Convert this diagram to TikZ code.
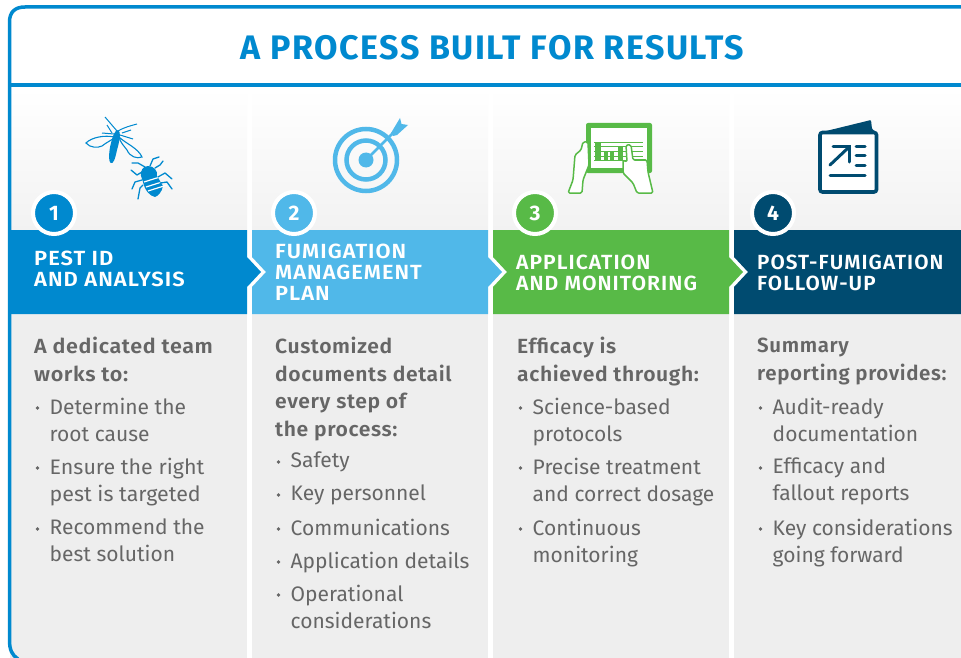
\documentclass[tikz,border=0pt]{standalone}
\usepackage{fontspec}
\setmainfont{Fira Sans}
\usetikzlibrary{calc}
\definecolor{cblue}{HTML}{0089CF}
\definecolor{clight}{HTML}{50B8E9}
\definecolor{cgreen}{HTML}{58BA47}
\definecolor{cnavy}{HTML}{004B70}
\definecolor{ctxt}{HTML}{666666}
\definecolor{cpanel}{HTML}{EEEEEE}
\definecolor{ctop}{HTML}{F2F2F2}
\newfontfamily\hdfont[LetterSpace=5]{Fira Sans SemiBold}
\newfontfamily\leadfont[LetterSpace=3]{Fira Sans SemiBold}
\newfontfamily\ttlbold[LetterSpace=4.5]{Fira Sans Bold}
\newfontfamily\numfont{Fira Sans Bold}
\newcommand{\xs}[1]{\addfontfeature{FakeStretch=#1}}
\tikzset{
 x=1pt,y=-1pt,
 head/.style={anchor=west,align=left,text=white,font=\hdfont\fontsize{20.5}{21}\selectfont,inner sep=0pt},
 lead/.style={anchor=north west,align=left,text=ctxt,font=\leadfont\fontsize{20.5}{27.5}\selectfont,inner sep=0pt},
 item/.style={anchor=north west,align=left,text=ctxt,font=\fontsize{21}{27}\selectfont,inner sep=0pt},
 dot/.style={circle,fill=ctxt,minimum size=3.6pt,inner sep=0pt},
 badge/.style={circle,draw=white,line width=4pt,minimum size=42pt,inner sep=0pt,text=white,font=\numfont\fontsize{21}{21}\selectfont},
}
\newcommand{\itm}[4]{% name, x, y, text
 \node[dot] (#1d) at (#2+3.5,#3+14) {};
 \node[item] (#1) at (#2+15.5,#3+4) {\vphantom{d}#4};}
\begin{document}
\begin{tikzpicture}
\useasboundingbox (0,0) rectangle (961,658);
\fill[white] (0,0) rectangle (961,658);
% panels
\foreach \a/\b in {10/247,252/488,493/729,734/961}{
 \shade[top color=white,bottom color=ctop] (\a,88) rectangle (\b,231);
 \fill[cpanel] (\a,313) rectangle (\b,658);
}
% headers
\fill[cnavy] (734,230) -- (961,230) -- (961,314) -- (734,314) -- (734,287) -- (748,272) -- (734,257) -- cycle;
\fill[cgreen] (493,230) -- (729,230) -- (729,257) -- (743,272) -- (729,287) -- (729,314) -- (493,314) -- (493,287) -- (507,272) -- (493,257) -- cycle;
\fill[clight] (252,230) -- (488,230) -- (488,257) -- (502,272) -- (488,287) -- (488,314) -- (252,314) -- (252,287) -- (266,272) -- (252,257) -- cycle;
\fill[cblue] (8,230) -- (247,230) -- (247,257) -- (261,272) -- (247,287) -- (247,314) -- (8,314) -- cycle;
% frame
\draw[cblue,line width=3.5pt] (18,659) .. controls (12,655) and (9.5,650) .. (9.5,640) -- (9.5,22) .. controls (9.5,12) and (15,7) .. (25,7) -- (961,7);
\draw[cblue,line width=3.5pt] (8,85) -- (961,85);
\node[text=cblue,font=\ttlbold\fontsize{34}{34}\selectfont,inner sep=0pt] (title) at (492.5,48) {A PROCESS BUILT FOR RESULTS};
% badges
\node[badge,fill=cblue] (b1) at (54,213) {1};
\node[badge,fill=clight] (b2) at (294,213) {2};
\node[badge,fill=cgreen] (b3) at (535,213) {3};
\node[badge,fill=cnavy] (b4) at (773,213) {4};
% header text
\node[head] (h1) at (34,268.5) {\xs{1.07}PEST ID\\\xs{1.07}AND ANALYSIS};
\node[head] (h2) at (275,272.5) {\xs{1.065}FUMIGATION\\\xs{1.065}MANAGEMENT\\\xs{1.065}PLAN};
\node[head] (h3) at (516,272.5) {\xs{1.03}APPLICATION\\\xs{1.03}AND MONITORING};
\node[head] (h4) at (757,272.5) {\xs{1.01}POST-FUMIGATION\\\xs{1.01}FOLLOW-UP};
% col 1
\node[lead] (l1) at (34,337) {\xs{1.05}A dedicated team\\\xs{1.05}works to:};
\itm{a1}{34}{394}{Determine the\\root cause}
\itm{a2}{34}{454}{\xs{1.02}Ensure the right\\\xs{1.02}pest is targeted}
\itm{a3}{34}{515}{Recommend the\\best solution}
% col 2
\node[lead] (l2) at (275,337) {\xs{1.03}Customized\\\xs{1.03}documents detail\\\xs{1.03}every step of\\\xs{1.03}the process:};
\itm{c1}{275}{448}{Safety}
\itm{c2}{275}{481}{Key personnel}
\itm{c3}{275}{515}{Communications}
\itm{c4}{275}{548}{Application details}
\itm{c5}{275}{581}{Operational\\considerations}
% col 3
\node[lead] (l3) at (517,337) {\xs{1.03}Efficacy is\\\xs{1.03}achieved through:};
\itm{e1}{517}{394}{Science-based\\protocols}
\itm{e2}{517}{454}{Precise treatment\\and correct dosage}
\itm{e3}{517}{515}{Continuous\\monitoring}
% col 4
\node[lead] (l4) at (757,337) {\vphantom{d}Summary\\reporting provides:};
\itm{s1}{757}{394}{Audit-ready\\documentation}
\itm{s2}{757}{454}{Efficacy and\\fallout reports}
\itm{s3}{757}{515}{Key considerations\\going forward}
% ---- icons ----
% target
\draw[clight,line width=4.5pt] (366,160) circle (31);
\draw[clight,line width=4.5pt] (366,160) circle (19.5);
\fill[clight] (366,160) circle (7.5);
\draw[clight,line width=2.5pt] (366,160) -- (394,132);
\fill[clight] (391,133) -- (400,118) -- (401.5,124) -- (408,125) -- (397,135) -- (393,136) -- cycle;
% tablet
\fill[cgreen,rounded corners=2pt] (586,123) rectangle (652,173);
\fill[white] (591,128) rectangle (647,168);
\foreach \y in {142.7,146.7,151,156,160}{\draw[cgreen,line width=.8pt] (594,\y) -- (643,\y);}
\fill[cgreen] (595,142.7) rectangle (601,160);
\fill[cgreen] (604,152) rectangle (608,160);
\fill[cgreen] (610,152) rectangle (613.5,160);
\fill[cgreen] (618,147) rectangle (623,160);
\draw[cgreen,line width=1.5pt,fill=white,line join=round,rounded corners=1.5pt] (568,193) -- (573,180) -- (575,155) -- (581,150) -- (583,142) -- (588,142) -- (589,165) -- (583,180) -- (582,193) -- cycle;
\draw[cgreen,line width=1.5pt,fill=white,line join=round,rounded corners=1.5pt] (653,193) -- (648,172) -- (647,160) -- (633,160) -- (631,145) -- (626,145) -- (627,162) -- (623,160) -- (623,173) -- (633,183) -- (637,193) -- cycle;
% booklet
\fill[cnavy,rounded corners=1pt] (822,132) -- (871,120) -- (872,129) -- (876,132) -- cycle;
\draw[cnavy,line width=3.6pt,fill=white,rounded corners=2.5pt] (820,132.5) rectangle (876.5,192);
\draw[cnavy,line width=3pt,line cap=round] (830,165) -- (848,148);
\draw[cnavy,line width=3pt,line cap=round,line join=miter] (833,147) -- (849.5,147) -- (849.5,162);
\foreach \y in {147,156,165}{\draw[cnavy,line width=3pt,line cap=round] (856,\y) -- (865,\y);}
\draw[cnavy,line width=3pt,line cap=round] (830,175) -- (865,175);
% insects
\fill[cblue] (118,130) .. controls (121,131) and (120,140) .. (117,150) .. controls (115,160) and (113,164) .. (111,163) .. controls (108,162) and (109,150) .. (111,143) .. controls (113,136) and (114,131) .. (118,130) -- cycle;
\draw[cblue,line width=1.1pt] (114,137) .. controls (105,135) and (92,137) .. (86,143) .. controls (90,148) and (98,148) .. (102,146) .. controls (107,142) and (112,140) .. (114,138);
\draw[cblue,line width=1.1pt] (119,137) .. controls (125,143) and (138,148) .. (142,157) .. controls (137,159) and (130,157) .. (127,150) .. controls (124,146) and (120,142) .. (119,137);
\draw[cblue,line width=1pt] (117,131) -- (105,117);
\draw[cblue,line width=1pt] (118,131) .. controls (125,127) and (130,126) .. (137,124);
\draw[cblue,line width=1pt] (102,133) -- (114,134);
\draw[cblue,line width=1pt] (122,133) -- (131,130);
\draw[cblue,line width=1pt] (107,125) -- (112,133);
\draw[cblue,line width=1pt] (120,135) -- (133,139);
\fill[cblue] (148,166) .. controls (154,166) and (158,171) .. (157,176) -- (163,186) .. controls (162,192) and (158,196) .. (155,197) .. controls (150,196) and (145,191) .. (143,182) -- (141,176) .. controls (140,171) and (143,166) .. (148,166) -- cycle;
\foreach \p/\q in {144/182,146/187,148/191}{\draw[white,line width=1.2pt] (\p,\q) -- (\p+19,\q-6);}
\foreach \a/\b/\c/\d/\e/\f in {150/166/153/159/159/157, 145/167/138/163/132/163, 155/168/160/165/163/161, 142/172/137/175/131/170, 158/177/165/173/172/179, 142/180/135/182/132/189, 160/183/167/182/172/189, 143/185/140/188/138/199}{
 \draw[cblue,line width=1.3pt,line cap=round,line join=round] (\a,\b) -- (\c,\d) -- (\e,\f);}
\end{tikzpicture}
\end{document}
